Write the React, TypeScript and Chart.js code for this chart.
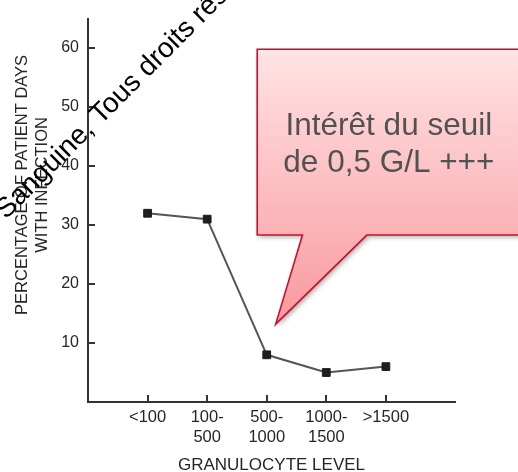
import React, { useEffect, useRef } from "react";
import { Chart, registerables } from "chart.js";

Chart.register(...registerables);

const CATEGORY_LABELS: string[][] = [["<100"], ["100-", "500"], ["500-", "1000"], ["1000-", "1500"], [">1500"]];
const INFECTION_PCT: number[] = [32, 31, 8, 5, 6];
const Y_TICKS: number[] = [10, 20, 30, 40, 50, 60];
const X_TITLE = "GRANULOCYTE LEVEL";
const Y_TITLE: string[] = ["PERCENTAGE OF PATIENT DAYS", "WITH INFECTION"];
const CALLOUT_TEXT: string[] = ["Intérêt du seuil", "de 0,5 G/L +++"];
const WATERMARK = "Sanguine, Tous droits réservés";

const FONT = "'Liberation Sans', Arial, Helvetica, sans-serif";
const AXIS_COLOR = "#333333";
const TEXT_COLOR = "#262626";

const decorPlugin = {
  id: "decor",
  afterDraw(chart: any) {
    const { ctx, chartArea } = chart;
    const xs = chart.scales.x;
    const ys = chart.scales.y;
    ctx.save();

    // inward tick marks
    ctx.strokeStyle = AXIS_COLOR;
    ctx.lineWidth = 2;
    Y_TICKS.forEach((v) => {
      const py = Math.round(ys.getPixelForValue(v));
      ctx.beginPath();
      ctx.moveTo(chartArea.left, py);
      ctx.lineTo(chartArea.left + 7, py);
      ctx.stroke();
    });
    CATEGORY_LABELS.forEach((_, i) => {
      const px = Math.round(xs.getPixelForValue(i + 1));
      ctx.beginPath();
      ctx.moveTo(px, chartArea.bottom);
      ctx.lineTo(px, chartArea.bottom - 7);
      ctx.stroke();
    });

    // y axis title (two lines, rotated)
    ctx.fillStyle = TEXT_COLOR;
    ctx.font = `16.5px ${FONT}`;
    ctx.textAlign = "center";
    ctx.textBaseline = "alphabetic";
    const titleCy = ys.getPixelForValue(36.8);
    [chartArea.left - 61, chartArea.left - 41].forEach((bx, i) => {
      ctx.save();
      ctx.translate(bx, titleCy);
      ctx.rotate(-Math.PI / 2);
      ctx.fillText(Y_TITLE[i], 0, 0);
      ctx.restore();
    });

    // callout
    const left = xs.getPixelForValue(2.84);
    const right = chart.width + 4;
    const top = ys.getPixelForValue(59.8);
    const bottom = ys.getPixelForValue(28.3);
    const b1 = xs.getPixelForValue(3.6);
    const b2 = xs.getPixelForValue(4.68);
    const tipX = xs.getPixelForValue(3.15);
    const tipY = ys.getPixelForValue(13.2);
    ctx.beginPath();
    ctx.moveTo(left, top);
    ctx.lineTo(right, top);
    ctx.lineTo(right, bottom);
    ctx.lineTo(b2, bottom);
    ctx.lineTo(tipX, tipY);
    ctx.lineTo(b1, bottom);
    ctx.lineTo(left, bottom);
    ctx.closePath();
    const grad = ctx.createLinearGradient(0, top, 0, tipY);
    grad.addColorStop(0, "#ffe3e5");
    grad.addColorStop(0.65, "#fbb3b6");
    grad.addColorStop(1, "#f8999d");
    ctx.save();
    ctx.shadowColor = "rgba(0,0,0,0.35)";
    ctx.shadowBlur = 5;
    ctx.shadowOffsetX = 2;
    ctx.shadowOffsetY = 2;
    ctx.fillStyle = grad;
    ctx.fill();
    ctx.restore();
    ctx.strokeStyle = "#c8102e";
    ctx.lineWidth = 1.6;
    ctx.lineJoin = "miter";
    ctx.stroke();

    ctx.fillStyle = "#525252";
    ctx.font = `31.5px ${FONT}`;
    ctx.textAlign = "center";
    ctx.textBaseline = "alphabetic";
    const tcx = xs.getPixelForValue(5.05);
    ctx.fillText(CALLOUT_TEXT[0], tcx, ys.getPixelForValue(45.3));
    ctx.fillText(CALLOUT_TEXT[1], tcx, ys.getPixelForValue(39));

    // watermark text
    ctx.save();
    ctx.translate(6, 220);
    ctx.rotate(-Math.PI / 4);
    ctx.fillStyle = "#000000";
    ctx.font = `28px ${FONT}`;
    ctx.textAlign = "left";
    ctx.fillText(WATERMARK, 0, 0);
    ctx.restore();

    ctx.restore();
  },
};

export default function App() {
  const canvasRef = useRef<HTMLCanvasElement | null>(null);

  useEffect(() => {
    if (!canvasRef.current) return;
    Chart.defaults.font.family = FONT;
    const chart = new Chart(canvasRef.current, {
      type: "line",
      data: {
        datasets: [
          {
            data: INFECTION_PCT.map((v, i) => ({ x: i + 1, y: v })),
            borderColor: "#555555",
            borderWidth: 2,
            tension: 0,
            pointStyle: "rect",
            pointRadius: 5.5,
            pointBackgroundColor: "#1e1e1e",
            pointBorderColor: "#1e1e1e",
            pointBorderWidth: 1,
            fill: false,
          },
        ],
      },
      options: {
        animation: false,
        responsive: false,
        layout: { padding: { left: 0, top: 12, right: 63, bottom: 0 } },
        plugins: {
          legend: { display: false },
          tooltip: { enabled: false },
        },
        scales: {
          x: {
            type: "linear",
            min: 0,
            max: 6.16,
            grid: { display: false, drawTicks: false },
            border: { display: true, color: AXIS_COLOR, width: 2 },
            afterBuildTicks: (scale: any) => {
              scale.ticks = CATEGORY_LABELS.map((_, i) => ({ value: i + 1 }));
            },
            afterFit: (scale: any) => {
              scale.height = 70;
            },
            ticks: {
              autoSkip: false,
              maxRotation: 0,
              padding: 5,
              color: TEXT_COLOR,
              font: { size: 16.5, lineHeight: 1.22 },
              callback: (value: any) => {
                const idx = Math.round(Number(value)) - 1;
                return CATEGORY_LABELS[idx] ?? "";
              },
            },
            title: {
              display: true,
              text: X_TITLE,
              color: TEXT_COLOR,
              font: { size: 17 },
              padding: { top: 0, bottom: -4 },
            },
          },
          y: {
            type: "linear",
            min: 0,
            max: 65,
            grid: { display: false, drawTicks: false },
            border: { display: true, color: AXIS_COLOR, width: 2 },
            afterBuildTicks: (scale: any) => {
              scale.ticks = Y_TICKS.map((v) => ({ value: v }));
            },
            afterFit: (scale: any) => {
              scale.width = 88;
            },
            ticks: {
              padding: 9,
              color: TEXT_COLOR,
              font: { size: 16 },
            },
          },
        },
      },
      plugins: [decorPlugin],
    });
    return () => chart.destroy();
  }, []);

  return (
    <canvas
      ref={canvasRef}
      width={518}
      height={472}
      style={{ position: "fixed", left: 0, top: 0, display: "block" }}
    />
  );
}
